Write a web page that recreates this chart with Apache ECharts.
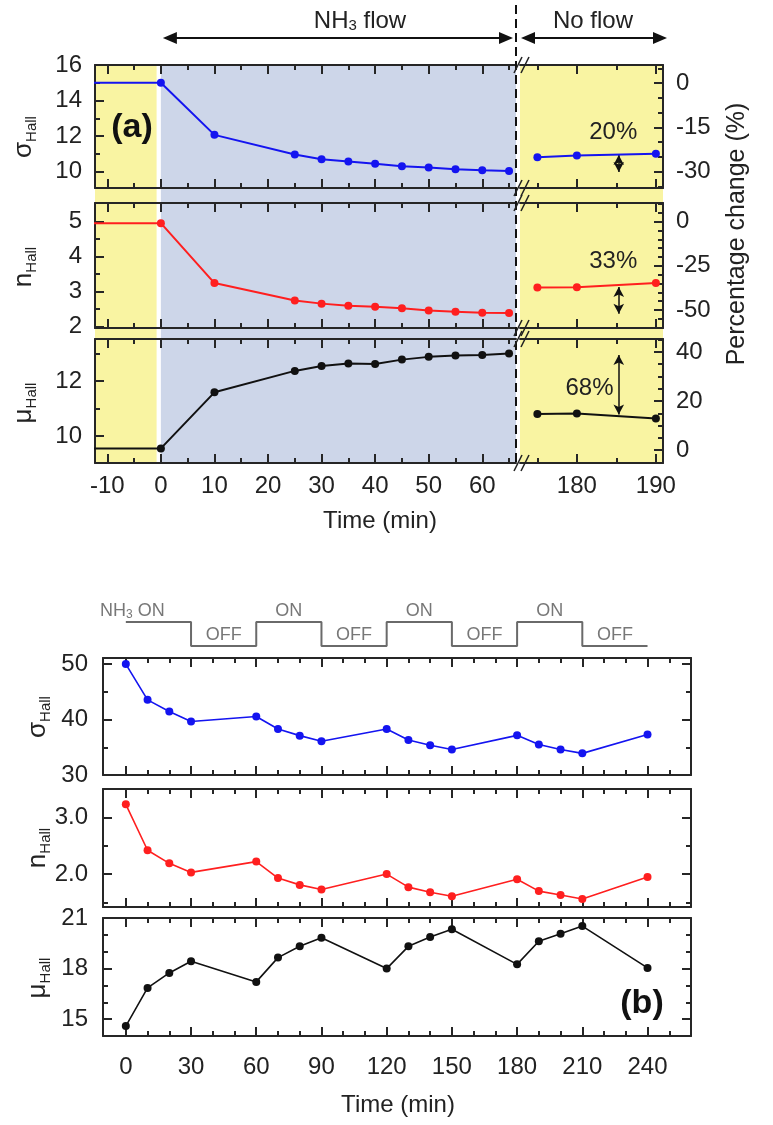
<!DOCTYPE html>
<html><head><meta charset="utf-8">
<script src="https://cdn.jsdelivr.net/npm/echarts@6/dist/echarts.min.js"></script>
<style>html,body{margin:0;padding:0;background:#fff}#c{width:773px;height:1125px}</style>
</head><body><div id="c"></div>
<script>
// ================= DATA =================
// Panel (a): NH3 flow then no flow
const flowTime   = [0, 10, 25, 30, 35, 40, 45, 50, 55, 60, 65];
const sigmaFlow  = [15.0, 12.07, 10.96, 10.70, 10.57, 10.45, 10.31, 10.23, 10.13, 10.08, 10.04];
const nFlow      = [4.96, 3.24, 2.74, 2.65, 2.59, 2.56, 2.52, 2.45, 2.42, 2.39, 2.38];
const muFlow     = [9.55, 11.59, 12.37, 12.55, 12.64, 12.62, 12.78, 12.88, 12.93, 12.95, 13.0];
const preTime    = [-15, 0];
const sigmaPre   = [15.0, 15.0];
const nPre       = [4.96, 4.96];
const muPre      = [9.55, 9.55];
const noFlowTime = [175, 180, 190];
const sigmaNoFlow = [10.81, 10.91, 11.0];
const nNoFlow     = [3.11, 3.12, 3.24];
const muNoFlow    = [10.80, 10.82, 10.64];
const changeLabels     = ['20%', '33%', '68%'];
const changeLabelTime  = [184.6, 184.6, 181.6];
const changeLabelValue = [12.19, 3.85, 11.75];
const changeArrowTime  = 185.3;
const sigmaArrow = [10.93, 9.98];
const nArrow     = [3.13, 2.36];
const muArrow    = [12.95, 10.78];

// Panel (a) ticks
const aTimeTicksLeft  = [-10, 0, 10, 20, 30, 40, 50, 60];
const aTimeMinorLeft  = [-5, 5, 15, 25, 35, 45, 55, 65];
const aTimeTicksRight = [180, 190];
const aTimeMinorRight = [175, 185];
const sigmaTicksA = [10, 12, 14, 16];   const sigmaMinorA = [9, 11, 13, 15];
const nTicksA     = [2, 3, 4, 5];       const nMinorA     = [2.5, 3.5, 4.5];
const muTicksA    = [10, 12];           const muMinorA    = [9, 11, 13];
const sigmaPctTicks = [-30, -15, 0];    const sigmaPctMinor = [-35, -25, -20, -10, -5, 5];
const nPctTicks     = [-50, -25, 0];    const nPctMinor     = [-60, -55, -45, -40, -35, -30, -20, -15, -10, -5, 5, 10];
const muPctTicks    = [0, 20, 40];      const muPctMinor    = [-5, 5, 10, 15, 25, 30, 35, 45];

// Panel (b): cycling NH3 on/off
const bTime  = [0, 10, 20, 30, 60, 70, 80, 90, 120, 130, 140, 150, 180, 190, 200, 210, 240];
const sigmaB = [50.0, 43.55, 41.45, 39.66, 40.56, 38.3, 37.1, 36.1, 38.3, 36.3, 35.36, 34.6, 37.15, 35.5, 34.6, 33.9, 37.3];
const nB     = [3.23, 2.42, 2.19, 2.03, 2.22, 1.93, 1.81, 1.73, 2.0, 1.77, 1.68, 1.61, 1.91, 1.70, 1.63, 1.56, 1.95];
const muB    = [14.59, 16.85, 17.74, 18.43, 17.21, 18.65, 19.32, 19.83, 18.0, 19.32, 19.87, 20.33, 18.25, 19.62, 20.07, 20.52, 18.04];
const stepTime  = [0, 30, 60, 90, 120, 150, 180, 210, 240];
const stepState = [1, 0, 1, 0, 1, 0, 1, 0, 0];
const stepLabelTime  = [3, 45, 75, 105, 135, 165, 195, 225];
const stepLabelState = [1, 0, 1, 0, 1, 0, 1, 0];
const stepLabelText  = ['NH{s|3} ON', 'OFF', 'ON', 'OFF', 'ON', 'OFF', 'ON', 'OFF'];
const bTimeTicks = [0, 30, 60, 90, 120, 150, 180, 210, 240];
const bTimeMinor = [10, 20, 40, 50, 70, 80, 100, 110, 130, 140, 160, 170, 190, 200, 220, 230, 250];
const sigmaTicksB = [30, 40, 50];      const sigmaMinorB = [35, 45];
const nTicksB     = [2.0, 3.0];        const nMinorB     = [1.5, 2.5, 3.5];
const muTicksB    = [15, 18, 21];      const muMinorB    = [16, 17, 19, 20];

// ================= LAYOUT / STYLE =================
const FONT = "'Liberation Sans', Arial, Helvetica, sans-serif";
const BLUE = '#1414f0', RED = '#ff1f1f', BLACK = '#111111';
const FRAME = {color: '#262626', width: 2};
const TXT = '#222';
const A = {left: 95, splitL: 516, splitR: 520, right: 663, rows: [[65, 188], [203, 328], [339, 463]]};
const B = {left: 103, right: 691, rows: [[658, 775], [789, 907], [918, 1036]], step: [622, 646]};
const aXLeft = [-12.3, 66.3], aXRight = [172.8, 190.9], bX = [-10.5, 260];
const aY = {sigma: [9.08, 16.0], n: [1.95, 5.54], mu: [9.02, 13.53]};
const aPct = {sigma: [-35.5, 6.1], n: [-60.2, 10.6], mu: [-5.3, 45.3]};
const bY = {sigma: [30, 51.1], n: [1.42, 3.5], mu: [14, 21]};

const zip = (a, b) => a.map((v, i) => [v, b[i]]);
const grids = [], xAxes = [], yAxes = [], series = [];

function addGrid(l, r, t, b) {
  grids.push({left: l, top: t, width: r - l, height: b - t, containLabel: false, outerBoundsMode: 'none'});
  return grids.length - 1;
}
function labelStyle(extra) {
  return Object.assign({show: true, fontFamily: FONT, fontSize: 24, color: TXT}, extra || {});
}
function addX(g, range, majors, minors, labels, margin) {
  const i = xAxes.length;
  const c = {type: 'value', gridIndex: g, min: range[0], max: range[1], splitLine: {show: false}};
  const maj = {show: true, inside: true, length: 9, customValues: majors, lineStyle: FRAME};
  const mnr = {show: true, inside: true, length: 5, customValues: minors, lineStyle: FRAME};
  xAxes.push(Object.assign({}, c, {position: 'bottom', axisLine: {show: true, onZero: false, lineStyle: FRAME}, axisTick: maj,
    axisLabel: labels ? labelStyle({customValues: majors, margin}) : {show: false}}));
  xAxes.push(Object.assign({}, c, {position: 'bottom', axisLine: {show: false, onZero: false}, axisTick: mnr, axisLabel: {show: false}}));
  xAxes.push(Object.assign({}, c, {position: 'top', axisLine: {show: true, onZero: false, lineStyle: FRAME}, axisTick: maj, axisLabel: {show: false}}));
  xAxes.push(Object.assign({}, c, {position: 'top', axisLine: {show: false, onZero: false}, axisTick: mnr, axisLabel: {show: false}}));
  return i;
}
function addY(g, range, majors, minors, sides) {
  const i = yAxes.length;
  const c = {type: 'value', gridIndex: g, min: range[0], max: range[1], splitLine: {show: false}};
  sides.forEach(s => {
    yAxes.push(Object.assign({}, c, {position: s.pos, axisLine: {show: true, onZero: false, lineStyle: FRAME},
      axisTick: {show: true, inside: true, length: 9, customValues: majors, lineStyle: FRAME},
      axisLabel: s.labels ? labelStyle({customValues: majors, margin: s.margin, formatter: s.fmt}) : {show: false}}));
    yAxes.push(Object.assign({}, c, {position: s.pos, axisLine: {show: false, onZero: false},
      axisTick: {show: true, inside: true, length: 5, customValues: minors, lineStyle: FRAME}, axisLabel: {show: false}}));
  });
  return i;
}
function line(xi, yi, data, color, sym, size, width) {
  return {type: 'line', xAxisIndex: xi, yAxisIndex: yi, data, symbol: sym ? 'circle' : 'none', showSymbol: sym,
    symbolSize: size, lineStyle: {color, width}, itemStyle: {color}, z: 5, emphasis: {disabled: true}, animation: false};
}

// ---------- Panel (a) ----------
const aRowsCfg = [
  {y: aY.sigma, ticks: sigmaTicksA, minor: sigmaMinorA, pct: aPct.sigma, pctTicks: sigmaPctTicks, pctMinor: sigmaPctMinor,
   pre: sigmaPre, flow: sigmaFlow, nf: sigmaNoFlow, arrow: sigmaArrow, color: BLUE},
  {y: aY.n, ticks: nTicksA, minor: nMinorA, pct: aPct.n, pctTicks: nPctTicks, pctMinor: nPctMinor,
   pre: nPre, flow: nFlow, nf: nNoFlow, arrow: nArrow, color: RED},
  {y: aY.mu, ticks: muTicksA, minor: muMinorA, pct: aPct.mu, pctTicks: muPctTicks, pctMinor: muPctMinor,
   pre: muPre, flow: muFlow, nf: muNoFlow, arrow: muArrow, color: BLACK}
];
let aLeftXIndex = 0;
aRowsCfg.forEach((c, r) => {
  const [t, b] = A.rows[r];
  const last = r === 2;
  const gL = addGrid(A.left, A.splitL, t, b);
  const gR = addGrid(A.splitR, A.right, t, b);
  const xL = addX(gL, aXLeft, aTimeTicksLeft, aTimeMinorLeft, last, 11);
  const xR = addX(gR, aXRight, aTimeTicksRight, aTimeMinorRight, last, 11);
  if (r === 0) aLeftXIndex = xL;
  const yL = addY(gL, c.y, c.ticks, c.minor, [{pos: 'left', labels: true, margin: 13}]);
  const yRd = yAxes.length;
  yAxes.push({type: 'value', gridIndex: gR, min: c.y[0], max: c.y[1], show: false});
  addY(gR, c.pct, c.pctTicks, c.pctMinor, [{pos: 'right', labels: true, margin: 13}]);
  series.push(line(xL, yL, zip(preTime, c.pre), c.color, false, 0, 2));
  series.push(line(xL, yL, zip(flowTime, c.flow), c.color, true, 8, 2));
  const s = line(xR, yRd, zip(noFlowTime, c.nf), c.color, true, 8, 2);
  s.markLine = {silent: true, symbol: ['arrow', 'arrow'], symbolSize: [8, 10], animation: false,
    lineStyle: {color: '#111', width: 1.5, type: 'solid'}, label: {show: false},
    data: [[{coord: [changeArrowTime, c.arrow[0]]}, {coord: [changeArrowTime, c.arrow[1]]}]]};
  s.markPoint = {silent: true, symbol: 'circle', symbolSize: 1, itemStyle: {color: 'rgba(0,0,0,0)'}, animation: false,
    label: {show: true, position: 'inside', fontFamily: FONT, fontSize: 24, color: TXT, formatter: changeLabels[r]},
    data: [{coord: [changeLabelTime[r], changeLabelValue[r]], value: changeLabels[r]}]};
  series.push(s);
});

// ---------- Panel (b) ----------
const gStep = addGrid(B.left, B.right, B.step[0], B.step[1]);
const xStep = xAxes.length;
xAxes.push({type: 'value', gridIndex: gStep, min: bX[0], max: bX[1], show: false});
const yStep = yAxes.length;
yAxes.push({type: 'value', gridIndex: gStep, min: 0, max: 1, show: false});
series.push({type: 'line', xAxisIndex: xStep, yAxisIndex: yStep, step: 'end', data: zip(stepTime, stepState),
  symbol: 'none', lineStyle: {color: '#6a6a6a', width: 2}, clip: false, animation: false, emphasis: {disabled: true}});
series.push({type: 'scatter', xAxisIndex: xStep, yAxisIndex: yStep, symbolSize: 1, clip: false, animation: false,
  itemStyle: {color: 'rgba(0,0,0,0)'}, emphasis: {disabled: true},
  data: stepLabelTime.map((t, i) => [t, stepLabelState[i], stepLabelText[i]]),
  label: {show: true, position: 'top', distance: 1, fontFamily: FONT, fontSize: 18, color: '#555',
    formatter: p => p.value[2], rich: {s: {fontFamily: FONT, fontSize: 12, color: '#555', verticalAlign: 'bottom', lineHeight: 14}}}});

const bRowsCfg = [
  {y: bY.sigma, ticks: sigmaTicksB, minor: sigmaMinorB, vals: sigmaB, color: BLUE, fmt: v => String(v)},
  {y: bY.n, ticks: nTicksB, minor: nMinorB, vals: nB, color: RED, fmt: v => Number(v).toFixed(1)},
  {y: bY.mu, ticks: muTicksB, minor: muMinorB, vals: muB, color: BLACK, fmt: v => String(v)}
];
bRowsCfg.forEach((c, r) => {
  const [t, b] = B.rows[r];
  const g = addGrid(B.left, B.right, t, b);
  const xi = addX(g, bX, bTimeTicks, bTimeMinor, r === 2, 19);
  const yi = addY(g, c.y, c.ticks, c.minor, [{pos: 'left', labels: true, margin: 15, fmt: c.fmt}, {pos: 'right', labels: false}]);
  series.push(line(xi, yi, zip(bTime, c.vals), c.color, true, 8, 1.6));
});

const chart = echarts.init(document.getElementById('c'), null, {renderer: 'canvas', width: 773, height: 1125});
chart.setOption({animation: false, backgroundColor: '#fff', grid: grids, xAxis: xAxes, yAxis: yAxes, series});

// ---------- decorations (positions derived from the axes) ----------
const xp = (ai, v) => chart.convertToPixel({xAxisIndex: ai}, v);
const aTop = A.rows[0][0], aBot = A.rows[2][1];
const g = [];
const YELLOW = '#f9f4a2', BLUEBG = '#cdd6e9';
g.push({type: 'rect', z: -5, shape: {x: A.left, y: aTop, width: xp(aLeftXIndex, -0.8) - A.left, height: aBot - aTop}, style: {fill: YELLOW}});
g.push({type: 'rect', z: -5, shape: {x: xp(aLeftXIndex, 0), y: aTop, width: A.splitL - xp(aLeftXIndex, 0), height: aBot - aTop}, style: {fill: BLUEBG}});
g.push({type: 'rect', z: -5, shape: {x: A.splitR, y: aTop, width: A.right - A.splitR, height: aBot - aTop}, style: {fill: YELLOW}});
// dashed separator
g.push({type: 'line', z: 20, shape: {x1: A.splitL, y1: 5, x2: A.splitL, y2: aBot}, style: {stroke: '#111', lineWidth: 2, lineDash: [9, 5]}});
// axis-break slashes
A.rows.forEach(([t, b]) => {
  [t, b].forEach(y => {
    [518, 525].forEach(cx => g.push({type: 'line', z: 21, shape: {x1: cx - 4, y1: y + 8, x2: cx + 4, y2: y - 8}, style: {stroke: '#222', lineWidth: 1.6}}));
  });
});
// top arrows
function hArrow(x1, x2, y) {
  const L = 14, W = 6;
  return [
    {type: 'line', z: 20, shape: {x1: x1 + L - 2, y1: y, x2: x2 - L + 2, y2: y}, style: {stroke: '#111', lineWidth: 2}},
    {type: 'polygon', z: 20, shape: {points: [[x1, y], [x1 + L, y - W], [x1 + L, y + W]]}, style: {fill: '#111'}},
    {type: 'polygon', z: 20, shape: {points: [[x2, y], [x2 - L, y - W], [x2 - L, y + W]]}, style: {fill: '#111'}}
  ];
}
g.push(...hArrow(xp(aLeftXIndex, 0) + 2, A.splitL - 3, 38));
g.push(...hArrow(A.splitR + 1, A.right + 4, 38));
const txt = (x, y, text, size, extra) => ({type: 'text', z: 30, x, y, style: Object.assign({text, fontFamily: FONT, fontSize: size, fill: TXT, align: 'center', verticalAlign: 'middle'}, extra || {})});
g.push(txt(360, 21, 'NH{s|3} flow', 24, {rich: {s: {fontFamily: FONT, fontSize: 15, fill: TXT, verticalAlign: 'bottom', lineHeight: 14}}}));
g.push(txt(593, 21, 'No flow', 24));
g.push(txt(380, 521, 'Time (min)', 24));
g.push(txt(398, 1105, 'Time (min)', 24));
g.push(Object.assign(txt(737, 234, 'Percentage change (%)', 25), {rotation: Math.PI / 2}));
g.push(txt(132, 128, '(a)', 34, {fontWeight: 'bold', fill: '#111'}));
g.push(txt(642, 1004, '(b)', 34, {fontWeight: 'bold', fill: '#111'}));
function yName(x, y, sym) {
  return {type: 'text', z: 30, x, y, rotation: Math.PI / 2,
    style: {text: '{a|' + sym + '}{s|Hall}', align: 'center', verticalAlign: 'middle',
      rich: {a: {fontFamily: FONT, fontSize: 26, fill: TXT, lineHeight: 30},
             s: {fontFamily: FONT, fontSize: 15, fill: TXT, lineHeight: 12, verticalAlign: 'bottom'}}}};
}
g.push(yName(24, 137, 'σ'), yName(24, 267, 'n'), yName(24, 403, 'μ'));
g.push(yName(38, 717, 'σ'), yName(38, 848, 'n'), yName(38, 978, 'μ'));
chart.setOption({graphic: {elements: g}});
</script>
</body></html>
